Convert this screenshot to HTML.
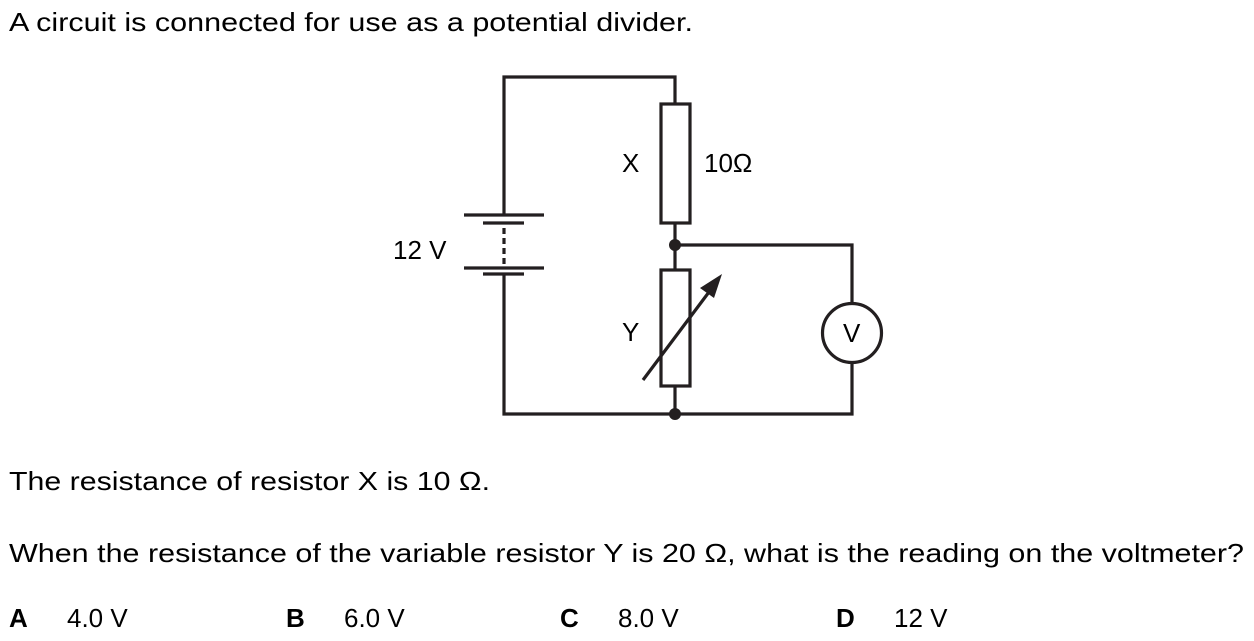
<!DOCTYPE html>
<html><head><meta charset="utf-8"><style>
html,body{margin:0;padding:0;background:#fff;}
svg{display:block;}
text{font-family:"Liberation Sans",Arial,sans-serif;font-size:26px;fill:#000;}
</style></head><body>
<svg width="1254" height="641" viewBox="0 0 1254 641" xmlns="http://www.w3.org/2000/svg">
<text x="9" y="31" textLength="684" lengthAdjust="spacingAndGlyphs">A circuit is connected for use as a potential divider.</text>
<g stroke="#231f20" stroke-width="3.2" fill="none">
<polyline points="504,215 504,77 675,77 675,104"/>
<rect x="661" y="104" width="29" height="119"/>
<line x1="675" y1="223" x2="675" y2="270"/>
<rect x="661" y="270" width="29" height="116"/>
<line x1="675" y1="386" x2="675" y2="414"/>
<polyline points="504,274 504,414 852,414 852,362"/>
<polyline points="675,245 852,245 852,303"/>
<circle cx="852" cy="333" r="29.5"/>
<line x1="464" y1="215" x2="544" y2="215"/>
<line x1="483" y1="223" x2="524" y2="223"/>
<line x1="464" y1="268" x2="544" y2="268"/>
<line x1="483" y1="274" x2="524" y2="274"/>
<line x1="504" y1="228" x2="504" y2="266" stroke-dasharray="6,4"/>
<line x1="643" y1="380" x2="712" y2="288"/>
</g>
<polygon points="722,274 700,288 714,298" fill="#231f20"/>
<circle cx="675" cy="245" r="6" fill="#231f20"/>
<circle cx="675" cy="414" r="6" fill="#231f20"/>
<text x="622" y="172">X</text>
<text x="704" y="172">10Ω</text>
<text x="393" y="259">12 V</text>
<text x="622" y="341">Y</text>
<text x="843" y="342" font-size="24">V</text>
<text x="9" y="490" textLength="481" lengthAdjust="spacingAndGlyphs">The resistance of resistor X is 10 Ω.</text>
<text x="9" y="562" textLength="1235" lengthAdjust="spacingAndGlyphs">When the resistance of the variable resistor Y is 20 Ω, what is the reading on the voltmeter?</text>
<text x="9" y="627" font-weight="bold">A</text><text x="67" y="627">4.0 V</text>
<text x="286" y="627" font-weight="bold">B</text><text x="344" y="627">6.0 V</text>
<text x="560" y="627" font-weight="bold">C</text><text x="618" y="627">8.0 V</text>
<text x="836" y="627" font-weight="bold">D</text><text x="894" y="627">12 V</text>
</svg>
</body></html>
